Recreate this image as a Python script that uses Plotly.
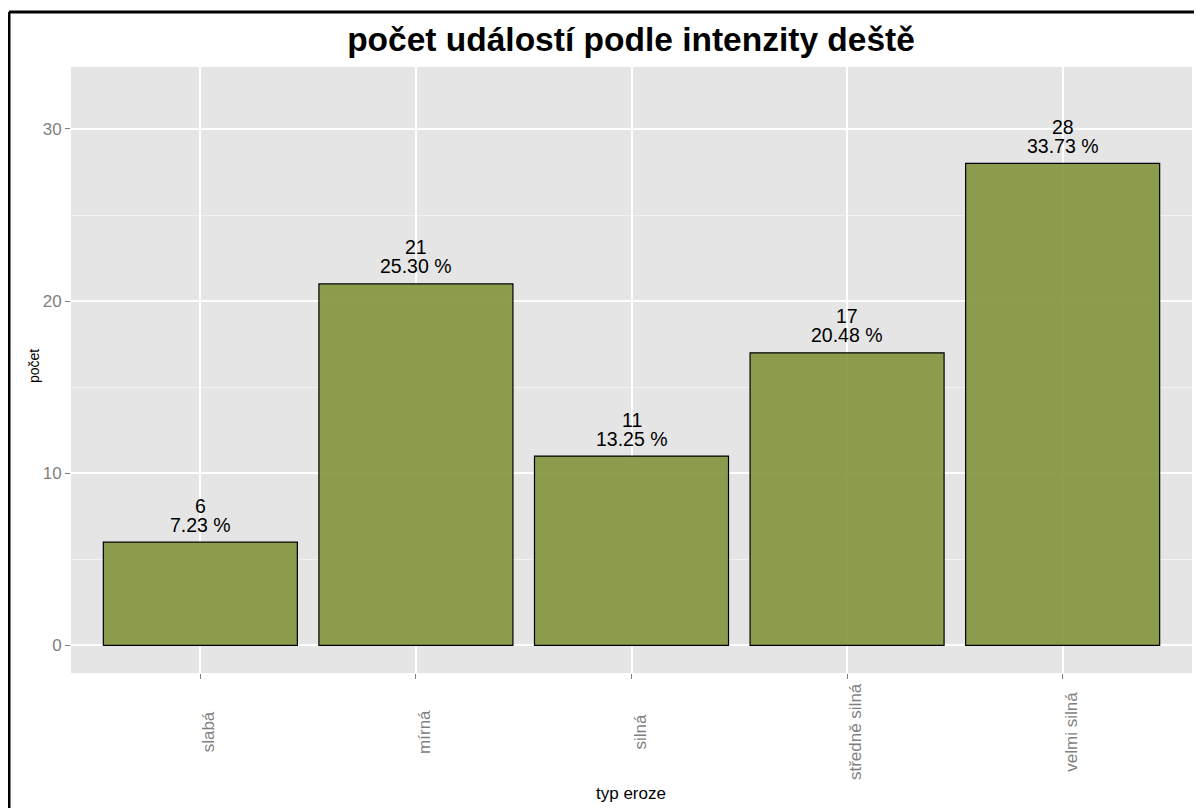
import plotly.graph_objects as go

categories = ["slabá", "mírná", "silná", "středně silná", "velmi silná"]
counts = [6, 21, 11, 17, 28]
pct_labels = ["7.23 %", "25.30 %", "13.25 %", "20.48 %", "33.73 %"]
y_ticks = [0, 10, 20, 30]

# page body has an 8px margin; work in reference-pixel coordinates
OFF = 8
W, H = 1202 - OFF, 808 - OFF
PL, PR, PT, PB = 71, 1192, 67, 673  # plot area in reference pixels
L, R, T, B = PL - OFF, W - (PR - OFF), PT - OFF, H - (PB - OFF)
pw, ph = PR - PL, PB - PT

def px_x(x):
    return (x - PL) / pw

def px_y(y):
    return (PB - y) / ph

fig = go.Figure()
fig.add_trace(go.Bar(
    x=categories, y=counts, width=0.9,
    marker=dict(color="rgba(129,149,60,0.9)", line=dict(color="black", width=1.2)),
    hoverinfo="skip",
))

ann = []
for c, v, p in zip(categories, counts, pct_labels):
    ann.append(dict(x=c, y=v, text=p, showarrow=False, yanchor="bottom",
                    yshift=4.5, font=dict(size=19.5, color="black")))
    ann.append(dict(x=c, y=v, text=str(v), showarrow=False, yanchor="bottom",
                    yshift=23.5, font=dict(size=19.5, color="black")))
    ann.append(dict(x=c, y=px_y(732), yref="paper", text=c, showarrow=False,
                    textangle=-90, yanchor="middle", xanchor="center", xshift=8,
                    font=dict(size=17, color="#7F7F7F")))
ann.append(dict(x=px_x(631), xref="paper", y=px_y(793), yref="paper", text="typ eroze",
                showarrow=False, yanchor="middle", font=dict(size=17, color="black")))
ann.append(dict(x=px_x(34), xref="paper", y=px_y(366), yref="paper", text="počet",
                showarrow=False, textangle=-90, xanchor="center", yanchor="middle",
                font=dict(size=14, color="black")))

shapes = [
    dict(type="line", xref="paper", yref="paper", x0=px_x(9), x1=px_x(1215),
         y0=px_y(12), y1=px_y(12), line=dict(color="black", width=3)),
    dict(type="line", xref="paper", yref="paper", x0=px_x(9), x1=px_x(9),
         y0=px_y(12), y1=px_y(820), line=dict(color="black", width=3)),
]

fig.update_layout(
    width=W, height=H,
    margin=dict(l=L, r=R, t=T, b=B),
    paper_bgcolor="white", plot_bgcolor="#E5E5E5",
    font=dict(family="Liberation Sans, Arial, sans-serif"),
    title=dict(text="<b>počet událostí podle intenzity deště</b>",
               x=(631 - OFF) / W, xanchor="center",
               y=1 - (39 - OFF) / H, yanchor="middle",
               font=dict(size=33.5, color="black")),
    showlegend=False,
    bargap=0.1,
    annotations=ann,
    shapes=shapes,
)
fig.update_xaxes(
    range=[-0.6, 4.6], showgrid=True, gridcolor="white", gridwidth=1.5,
    showticklabels=False, ticks="outside", ticklen=5, tickcolor="#7F7F7F",
    tickwidth=1.2, zeroline=False, showline=False,
)
fig.update_yaxes(
    range=[-1.6, 33.6], tickvals=y_ticks, showgrid=True, gridcolor="white",
    gridwidth=1.5, ticks="outside", ticklen=5, tickcolor="#7F7F7F", tickwidth=1.2,
    tickfont=dict(size=17, color="#7F7F7F"), zeroline=False, showline=False,
    minor=dict(tickvals=[5, 15, 25], showgrid=True, gridcolor="#F2F2F2", gridwidth=0.8, ticks=""),
)

fig.write_html("out.html")
